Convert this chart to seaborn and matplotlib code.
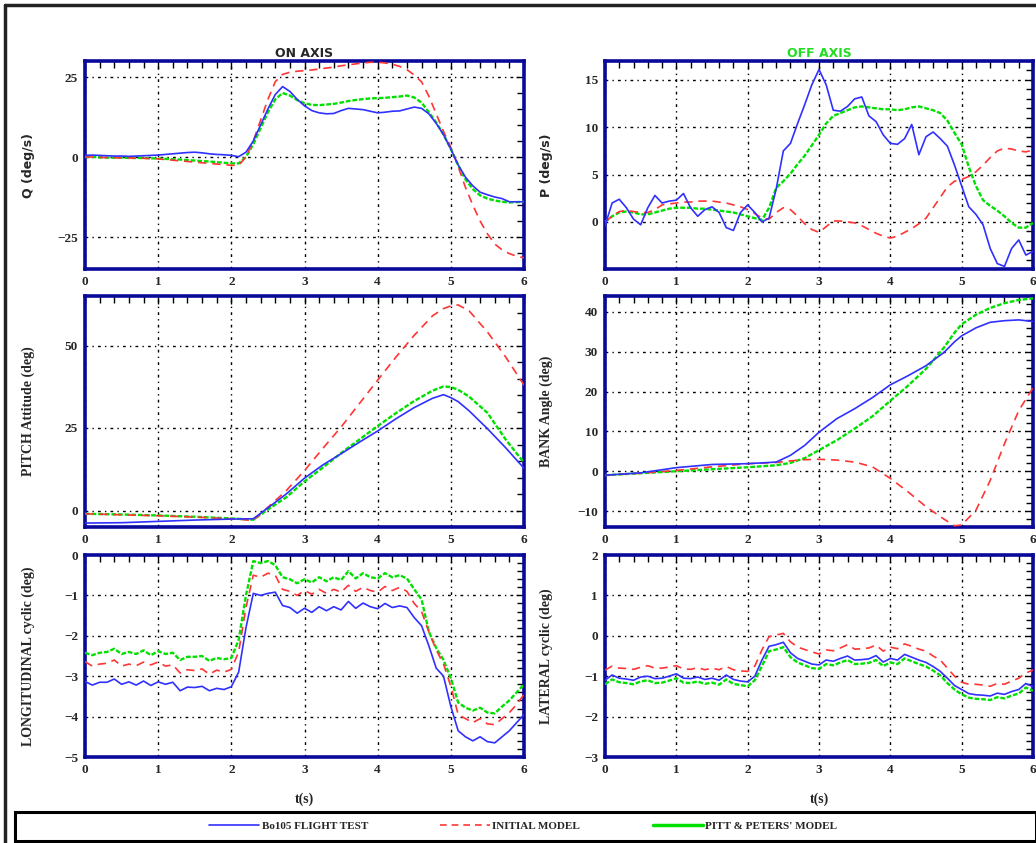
import numpy as np
import pandas as pd
import matplotlib
matplotlib.use("Agg")
import matplotlib.pyplot as plt
from matplotlib.lines import Line2D
from matplotlib.patches import Rectangle
from matplotlib.ticker import MultipleLocator
import seaborn as sns

# ---------------- data ----------------
t10 = [round(0.1 * i, 1) for i in range(61)]

# Q (deg/s), on axis
q_test = [0.5, 0.6, 0.5, 0.4, 0.3, 0.3, 0.2, 0.3, 0.4, 0.5, 0.6, 0.8, 1.0, 1.2, 1.4, 1.5, 1.3, 1.0, 0.8, 0.7,
          0.5, 0.1, 1.5, 5.0, 10.0, 15.0, 19.5, 22.0, 20.5, 18.0, 16.0, 14.5, 13.8, 13.5, 13.6, 14.5, 15.2, 15.0,
          14.8, 14.3, 13.8, 14.0, 14.3, 14.4, 15.0, 15.6, 15.2, 13.5, 10.5, 7.0, 2.5, -2.5, -6.3, -9.0, -11.0,
          -11.8, -12.5, -13.0, -14.0, -14.0, -14.0]
q_init = [0.0, 0.0, -0.1, -0.2, -0.2, -0.3, -0.3, -0.4, -0.4, -0.5, -0.6, -0.8, -1.0, -1.2, -1.4, -1.6, -1.8,
          -2.0, -2.2, -2.4, -2.6, -2.6, 0.0, 5.0, 11.5, 18.0, 23.5, 25.8, 26.5, 26.8, 27.0, 27.2, 27.5, 27.8,
          28.1, 28.5, 28.8, 29.1, 29.4, 29.6, 29.6, 29.4, 29.0, 28.3, 27.3, 25.6, 23.5, 19.0, 13.5, 8.0, 3.0,
          -3.0, -9.5, -15.0, -20.0, -24.0, -27.2, -29.0, -30.2, -31.0, -31.5]
q_pitt = [0.0, 0.0, -0.1, -0.2, -0.2, -0.2, -0.3, -0.3, -0.3, -0.4, -0.5, -0.6, -0.7, -0.8, -1.0, -1.1, -1.3,
          -1.4, -1.6, -1.8, -2.0, -2.0, 0.0, 4.0, 9.0, 14.0, 18.0, 20.0, 19.2, 17.8, 16.8, 16.3, 16.2, 16.4,
          16.6, 17.0, 17.5, 17.8, 18.1, 18.3, 18.4, 18.5, 18.7, 18.9, 19.2, 18.6, 17.0, 14.0, 10.8, 7.0, 2.5,
          -2.5, -7.0, -10.0, -12.0, -13.0, -13.6, -14.0, -14.2, -14.1, -14.0]

# P (deg/s), off axis
p_test = [-0.4, 2.0, 2.4, 1.5, 0.3, -0.3, 1.5, 2.8, 2.0, 2.2, 2.3, 3.0, 1.5, 0.6, 1.3, 1.6, 1.0, -0.6, -0.9,
          1.0, 1.8, 1.0, 0.0, 0.4, 3.5, 7.5, 8.3, 10.4, 12.4, 14.5, 16.1, 14.5, 11.8, 11.7, 12.2, 13.0, 13.2,
          11.2, 10.6, 9.2, 8.3, 8.2, 8.8, 10.3, 7.1, 9.0, 9.5, 8.8, 8.0, 6.0, 3.8, 1.6, 0.8, -0.3, -2.8, -4.4,
          -4.7, -2.8, -1.9, -3.5, -3.1]
p_init = [0.0, 0.6, 1.1, 1.2, 1.1, 1.0, 1.0, 1.3, 1.8, 1.9, 2.0, 2.1, 2.1, 2.2, 2.2, 2.2, 2.1, 2.0, 1.8, 1.6,
          1.3, 0.9, 0.4, 0.3, 1.0, 1.5, 1.3, 0.6, -0.2, -0.8, -1.1, -0.5, 0.1, 0.1, 0.0, -0.1, -0.4, -0.8,
          -1.2, -1.5, -1.7, -1.5, -1.1, -0.7, -0.2, 0.4, 1.5, 2.6, 3.7, 4.3, 4.5, 4.8, 5.3, 6.0, 6.8, 7.5, 7.8,
          7.7, 7.5, 7.4, 7.6]
p_pitt = [0.0, 0.6, 1.0, 1.1, 1.0, 0.8, 0.8, 1.0, 1.2, 1.4, 1.5, 1.5, 1.5, 1.4, 1.4, 1.3, 1.2, 1.1, 1.0, 0.8,
          0.6, 0.4, 0.2, 1.5, 3.6, 4.3, 5.1, 6.1, 7.0, 8.1, 9.2, 10.4, 11.2, 11.5, 11.8, 12.1, 12.2, 12.1,
          12.0, 11.9, 11.9, 11.8, 11.9, 12.1, 12.2, 12.0, 11.8, 11.5, 10.7, 9.4, 8.2, 5.8, 3.8, 2.3, 1.7, 1.2,
          0.6, -0.1, -0.6, -0.6, -0.1]

# PITCH attitude (deg)
pitch_t = [0, 0.5, 1.0, 1.5, 2.0, 2.3, 2.5, 2.75, 3.0, 3.25, 3.5, 3.75, 4.0, 4.25, 4.5, 4.75, 4.9, 5.0, 5.1,
           5.25, 5.5, 5.75, 6.0]
pitch_test = [-3.8, -3.7, -3.3, -2.9, -2.6, -2.5, 0.8, 5.0, 9.8, 13.8, 17.2, 20.7, 24.1, 27.8, 31.2, 34.0,
              35.1, 34.2, 33.0, 30.2, 24.8, 19.0, 12.8]
pitch_init = [-1.0, -1.3, -1.6, -2.0, -2.5, -3.0, 1.0, 6.0, 12.1, 18.8, 25.3, 32.4, 39.5, 46.5, 53.1, 59.0,
              61.2, 62.0, 62.3, 60.5, 54.1, 46.5, 38.0]
pitch_pitt = [-1.0, -1.2, -1.5, -1.9, -2.4, -2.8, 0.3, 4.0, 8.8, 13.0, 17.4, 21.5, 25.6, 29.5, 33.2, 36.3,
              37.6, 37.4, 36.6, 34.5, 29.6, 21.5, 14.5]

# BANK angle (deg)
bank_t = [0, 0.5, 1.0, 1.5, 2.0, 2.4, 2.6, 2.8, 3.0, 3.25, 3.5, 3.75, 4.0, 4.25, 4.5, 4.75, 4.9, 5.0, 5.2,
          5.4, 5.6, 5.8, 6.0]
bank_test = [-1.0, -0.4, 0.9, 1.7, 1.9, 2.3, 4.0, 6.5, 9.8, 13.2, 15.7, 18.5, 21.7, 24.0, 26.5, 29.8, 32.5,
             34.0, 36.0, 37.4, 37.8, 38.0, 37.6]
bank_init = [-1.0, -0.5, 0.2, 1.1, 1.9, 2.2, 2.6, 2.9, 3.0, 2.8, 2.3, 1.1, -1.8, -5.2, -8.9, -12.0, -13.7,
             -13.5, -9.8, -2.3, 6.9, 15.2, 21.0]
bank_pitt = [-1.0, -0.5, 0.0, 0.5, 1.0, 1.5, 2.1, 3.3, 5.3, 7.8, 10.7, 13.8, 17.7, 21.5, 25.7, 31.0, 34.8,
             36.9, 39.3, 41.0, 42.2, 43.0, 43.4]

# LONGITUDINAL cyclic (deg)
lon_test = [-3.13, -3.22, -3.15, -3.15, -3.07, -3.2, -3.14, -3.22, -3.12, -3.23, -3.14, -3.2, -3.15, -3.36,
            -3.27, -3.28, -3.25, -3.36, -3.3, -3.33, -3.26, -2.9, -1.8, -0.95, -1.0, -0.95, -0.92, -1.25, -1.3,
            -1.44, -1.32, -1.42, -1.28, -1.38, -1.28, -1.36, -1.15, -1.32, -1.19, -1.28, -1.33, -1.2, -1.3,
            -1.26, -1.3, -1.55, -1.75, -2.25, -2.8, -3.0, -3.75, -4.35, -4.5, -4.6, -4.5, -4.62, -4.65, -4.5,
            -4.35, -4.15, -3.95]
lon_init = [-2.64, -2.75, -2.7, -2.68, -2.6, -2.75, -2.7, -2.74, -2.65, -2.72, -2.65, -2.75, -2.72, -2.92,
            -2.84, -2.86, -2.82, -2.95, -2.85, -2.9, -2.83, -2.4, -1.3, -0.5, -0.55, -0.45, -0.5, -0.85, -0.9,
            -1.0, -0.88, -0.97, -0.85, -0.95, -0.85, -0.92, -0.75, -0.9, -0.8, -0.88, -0.92, -0.78, -0.88, -0.8,
            -0.9, -1.2, -1.4, -1.9, -2.35, -2.7, -3.25, -3.95, -4.05, -4.15, -4.05, -4.18, -4.2, -4.05, -3.9,
            -3.7, -3.45]
lon_pitt = [-2.42, -2.48, -2.42, -2.4, -2.32, -2.45, -2.4, -2.45, -2.36, -2.48, -2.38, -2.45, -2.42, -2.6,
            -2.52, -2.52, -2.5, -2.62, -2.55, -2.58, -2.55, -2.1, -1.0, -0.15, -0.2, -0.15, -0.25, -0.55, -0.6,
            -0.7, -0.6, -0.68, -0.55, -0.65, -0.55, -0.62, -0.4, -0.58, -0.45, -0.55, -0.58, -0.45, -0.55, -0.5,
            -0.58, -0.85, -1.1, -1.9, -2.3, -2.6, -3.05, -3.65, -3.78, -3.85, -3.78, -3.9, -3.92, -3.75, -3.6,
            -3.4, -3.2]

# LATERAL cyclic (deg)
lat_test = [-1.1, -0.97, -1.05, -1.07, -1.1, -1.02, -1.0, -1.06, -1.05, -1.0, -0.94, -1.05, -1.06, -1.02,
            -1.08, -1.05, -1.1, -0.97, -1.08, -1.12, -1.14, -1.0, -0.6, -0.26, -0.22, -0.16, -0.42, -0.56,
            -0.63, -0.7, -0.72, -0.6, -0.63, -0.56, -0.5, -0.6, -0.59, -0.57, -0.49, -0.65, -0.56, -0.6, -0.46,
            -0.53, -0.6, -0.66, -0.76, -0.88, -1.05, -1.23, -1.33, -1.43, -1.46, -1.47, -1.49, -1.42, -1.45,
            -1.38, -1.33, -1.18, -1.26]
lat_init = [-0.85, -0.75, -0.8, -0.81, -0.83, -0.78, -0.74, -0.8, -0.8, -0.77, -0.74, -0.82, -0.83, -0.79,
            -0.84, -0.8, -0.84, -0.76, -0.84, -0.87, -0.88, -0.75, -0.35, -0.02, 0.02, 0.06, -0.15, -0.28,
            -0.34, -0.4, -0.45, -0.35, -0.37, -0.3, -0.22, -0.33, -0.32, -0.3, -0.23, -0.38, -0.28, -0.32,
            -0.2, -0.26, -0.33, -0.38, -0.5, -0.6, -0.8, -1.0, -1.15, -1.2, -1.2, -1.22, -1.25, -1.18, -1.2,
            -1.12, -1.05, -0.92, -0.85]
lat_pitt = [-1.2, -1.08, -1.15, -1.17, -1.2, -1.13, -1.1, -1.17, -1.16, -1.11, -1.05, -1.16, -1.17, -1.13,
            -1.19, -1.16, -1.21, -1.08, -1.19, -1.22, -1.25, -1.1, -0.75, -0.38, -0.34, -0.28, -0.53, -0.66,
            -0.73, -0.8, -0.82, -0.7, -0.73, -0.66, -0.6, -0.7, -0.69, -0.67, -0.6, -0.75, -0.66, -0.7, -0.56,
            -0.63, -0.7, -0.76, -0.86, -0.98, -1.17, -1.33, -1.45, -1.53, -1.56, -1.57, -1.59, -1.52, -1.55,
            -1.48, -1.43, -1.28, -1.36]

series_names = ["Bo105 FLIGHT TEST", "INITIAL MODEL", "PITT & PETERS' MODEL"]

# ---------------- style ----------------
sns.set_style("white")
plt.rcParams["font.family"] = ["Liberation Serif", "DejaVu Serif"]
plt.rcParams["font.weight"] = "bold"

c_test, c_init, c_pitt = "#3030ff", "#ff3535", "#00e000"
navy = "#0a0a9a"

fig = plt.figure(figsize=(10.36, 8.43), dpi=100)
W, H = 1036, 843


def add_ax(x0, y0, x1, y1):
    return fig.add_axes([x0 / W, 1 - y1 / H, (x1 - x0) / W, (y1 - y0) / H])


panels = [
    # (pixel box, t, test, init, pitt, ylim, major, minor, ylabel, sans label)
    ((85, 61, 524, 269), t10, q_test, q_init, q_pitt, (-35, 30), 25, 5, "Q (deg/s)", True),
    ((605, 61, 1033, 269), t10, p_test, p_init, p_pitt, (-4.97, 17), 5, 1, "P (deg/s)", True),
    ((85, 296, 524, 527), pitch_t, pitch_test, pitch_init, pitch_pitt, (-5, 65), 25, 5, "PITCH Attitude (deg)", False),
    ((605, 296, 1033, 527), bank_t, bank_test, bank_init, bank_pitt, (-14, 44), 10, 2, "BANK Angle (deg)", False),
    ((85, 555, 524, 757), t10, lon_test, lon_init, lon_pitt, (-5, 0), 1, 0.2, "LONGITUDINAL cyclic (deg)", False),
    ((605, 555, 1033, 757), t10, lat_test, lat_init, lat_pitt, (-3, 2), 1, 0.2, "LATERAL cyclic (deg)", False),
]

axes = []
for i, (box, t, ytest, yinit, ypitt, ylim, major, minor, ylabel, sans) in enumerate(panels):
    ax = add_ax(*box)
    axes.append(ax)
    df = pd.DataFrame({"t": t, series_names[0]: ytest, series_names[1]: yinit, series_names[2]: ypitt})
    sns.lineplot(data=df, x="t", y=series_names[2], ax=ax, color=c_pitt, lw=1.7,
                 linestyle=(0, (2, 0.8)), legend=False, zorder=3)
    sns.lineplot(data=df, x="t", y=series_names[1], ax=ax, color=c_init, lw=1.2,
                 linestyle=(0, (5, 3.5)), legend=False, zorder=4)
    sns.lineplot(data=df, x="t", y=series_names[0], ax=ax, color=c_test, lw=1.2,
                 legend=False, zorder=5)

    ax.set_xlim(0, 6)
    ax.set_ylim(*ylim)
    ax.xaxis.set_major_locator(MultipleLocator(1))
    ax.xaxis.set_minor_locator(MultipleLocator(0.2))
    ax.yaxis.set_major_locator(MultipleLocator(major))
    ax.yaxis.set_minor_locator(MultipleLocator(minor))
    ax.grid(True, which="major", color="black", lw=1.0, linestyle=(0, (2, 3, 1, 3)))
    ax.tick_params(which="both", direction="in", top=True, right=True, color="black",
                   labelsize=9.5, pad=5)
    ax.tick_params(which="major", length=6, width=1)
    ax.tick_params(which="minor", length=5, width=1)
    for lab in ax.get_xticklabels() + ax.get_yticklabels():
        lab.set_fontweight("bold")
    for sp in ax.spines.values():
        sp.set_color(navy)
        sp.set_linewidth(2.6)

    if sans:
        ax.set_ylabel(ylabel, fontsize=9, fontweight="bold", family=["DejaVu Sans"])
    else:
        ax.set_ylabel(ylabel, fontsize=10, fontweight="bold")
    if i % 2 == 0:
        ax.yaxis.set_label_coords(-0.114, 0.5)
    else:
        ax.yaxis.set_label_coords(-0.121, 0.5)

    if i >= 4:
        ax.set_xlabel("t(s)", fontsize=10, fontweight="bold", labelpad=12)
    else:
        ax.set_xlabel("")

axes[0].set_title("ON AXIS", fontsize=9, fontweight="bold", family=["DejaVu Sans"], pad=3)
axes[1].set_title("OFF AXIS", fontsize=9, fontweight="bold", family=["DejaVu Sans"],
                  color="#22dd22", pad=3)

# outer frame and legend box
fig.add_artist(Line2D([5 / W, 5 / W], [0, 1 - 5 / H], color="#222222", lw=2.5, transform=fig.transFigure))
fig.add_artist(Line2D([5 / W, 1], [1 - 5 / H, 1 - 5 / H], color="#222222", lw=2.5, transform=fig.transFigure))
fig.add_artist(Rectangle((15 / W, 1 - 841 / H), (1036 - 15) / W, 29 / H, transform=fig.transFigure,
                         fill=False, edgecolor="black", lw=2.2))

handles = [
    Line2D([], [], color=c_test, lw=1.2),
    Line2D([], [], color=c_init, lw=1.2, linestyle=(0, (4, 3))),
    Line2D([], [], color=c_pitt, lw=2.5),
]
fig.legend(handles, series_names, loc="center", bbox_to_anchor=(0.505, 1 - 826 / H), ncol=3,
           frameon=False, handlelength=4.5, handletextpad=0.2, columnspacing=6.5,
           prop={"weight": "bold", "size": 8})

fig.savefig("out.png", dpi=100)
